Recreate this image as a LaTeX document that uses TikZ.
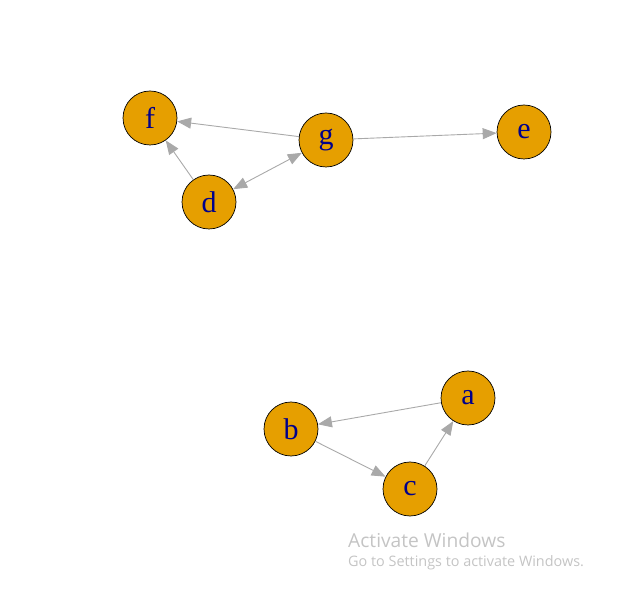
\documentclass[tikz,border=0pt]{standalone}
\usepackage{fontspec}
\setmainfont{Liberation Serif}
\newfontfamily\wmfont{Open Sans}
\usetikzlibrary{arrows.meta}
\definecolor{vorange}{HTML}{E69F00}
\definecolor{vlabel}{HTML}{00008B}
\definecolor{egray}{HTML}{A9A9A9}
\definecolor{wmgray}{HTML}{C4C4C4}
\tikzset{etip/.tip={Triangle[length=14pt,width=11pt,fill=egray]}}
\begin{document}
\begin{tikzpicture}[x=1pt,y=-1pt,
  vert/.style={circle,draw=black,line width=0.7pt,fill=vorange,minimum size=54pt,inner sep=0pt,
    text=vlabel,font=\fontsize{30}{30}\selectfont},
  edge/.style={draw=egray,line width=0.9pt,-etip},
  wm/.style={text=wmgray,anchor=west,inner sep=0pt}]
\useasboundingbox (0,0) rectangle (630,612);
\node[vert] (f) at (150,118) {f};
\node[vert] (g) at (326,140) {g};
\node[vert] (e) at (524,132) {e};
\node[vert] (d) at (209,202) {d};
\node[vert] (a) at (468,398) {a};
\node[vert] (b) at (291,429) {b};
\node[vert] (c) at (410,489) {c};
\draw[edge] (g) -- (f);
\draw[edge] (g) -- (e);
\draw[edge,etip-etip] (d) -- (g);
\draw[edge] (d) -- (f);
\draw[edge] (a) -- (b);
\draw[edge] (b) -- (c);
\draw[edge] (c) -- (a);
\node[wm,font=\wmfont\fontsize{19.2}{19.2}\selectfont] (w1) at (348,540) {Activate Windows};
\node[wm,font=\wmfont\fontsize{14.4}{14.4}\selectfont] (w2) at (348,563) {Go to Settings to activate Windows.};
\end{tikzpicture}
\end{document}
